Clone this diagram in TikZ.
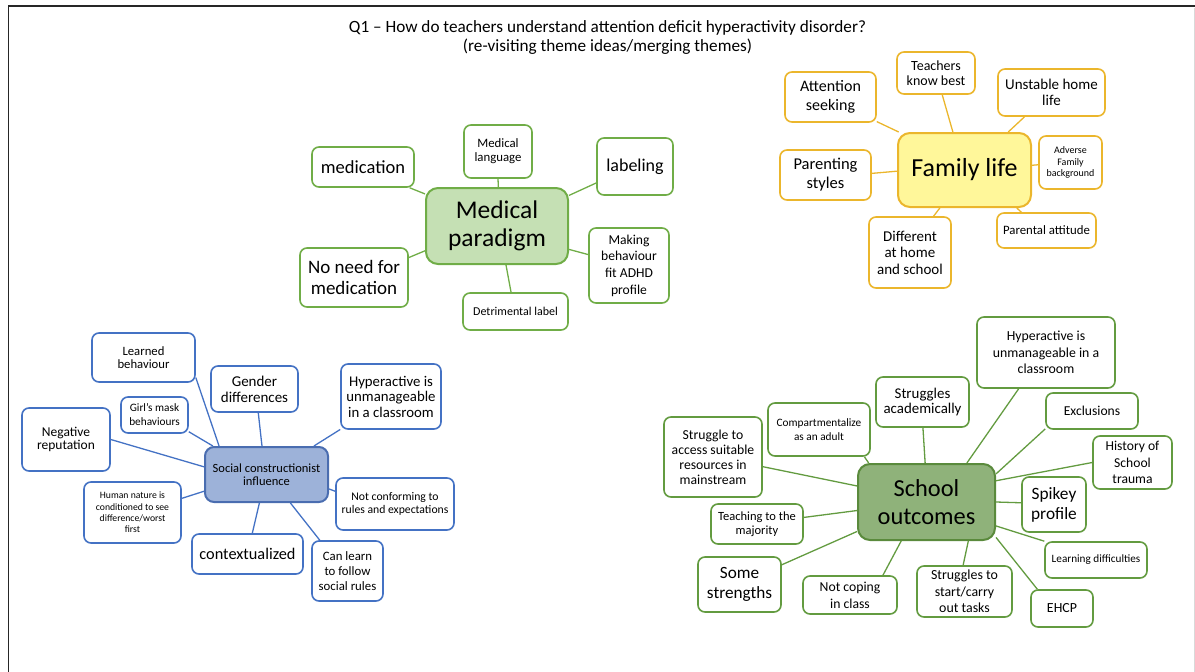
\documentclass[tikz,border=0pt]{standalone}
\usepackage{fontspec}
\setmainfont{Carlito}
\definecolor{medgreen}{HTML}{70AD47}
\definecolor{medfill}{HTML}{C5E0B4}
\definecolor{schgreen}{HTML}{639B40}
\definecolor{schfill}{HTML}{8FB27A}
\definecolor{schedge}{HTML}{5A8A3C}
\definecolor{famgold}{HTML}{EBB62C}
\definecolor{famfill}{HTML}{FFF79A}
\definecolor{socblue}{HTML}{4472C4}
\definecolor{socfill}{HTML}{9DB2D9}
\definecolor{socedge}{HTML}{4A6DB0}
\begin{document}
\begin{tikzpicture}[x=1pt,y=-1pt,
  fsz/.style 2 args={font=\fontsize{#1}{#2}\selectfont},
  box/.style={draw, rounded corners=7pt, line width=1.6pt, fill=white,
              align=center, inner sep=1pt, text=black},
  hub/.style={draw, rounded corners=12pt, line width=2pt,
              align=center, inner sep=1pt, text=black},
  gleaf/.style={box, draw=medgreen},
  sleaf/.style={box, draw=schgreen},
  fleaf/.style={box, draw=famgold},
  bleaf/.style={box, draw=socblue},
  glink/.style={draw=medgreen, line width=1.3pt},
  slink/.style={draw=schgreen, line width=1.3pt},
  flink/.style={draw=famgold, line width=1.3pt},
  blink/.style={draw=socblue, line width=1.3pt},
  wh/.style 2 args={minimum width=#1pt, minimum height=#2pt}
]
\useasboundingbox (0,0) rectangle (1195,672);

% page frame
\draw[line width=1.6pt, black!85] (8.5,672) -- (8.5,6) -- (1195,6);
\draw[line width=0.7pt, black!15] (1194.3,8) -- (1194.3,672);

% title
\node[fsz={17.2}{19.5}, align=center] (title) at (607.5,37.5)
  {Q1 -- How do teachers understand attention deficit hyperactivity disorder?\\
   (re-visiting theme ideas/merging themes)};

% ---------------- Medical paradigm ----------------
\node[hub, draw=medgreen, fill=medfill, fsz={25.5}{28.5}, wh={142}{76}] (mp) at (497,226) {Medical\\paradigm};
\node[gleaf, fsz={18.5}{21}, wh={102}{40}] (med1) at (363,167) {medication};
\node[gleaf, fsz={12.8}{14.3}, wh={68}{53}] (mlang) at (498,151.5) {Medical\\language};
\node[gleaf, fsz={18}{21}, wh={76}{57}] (lab) at (635,166.5) {labeling};
\node[gleaf, fsz={19}{20.7}, wh={108}{59}] (noneed) at (354,277.5) {No need for\\medication};
\node[gleaf, fsz={12}{14}, wh={105}{37}] (detr) at (515.5,311.5) {Detrimental label};
\node[gleaf, fsz={13.6}{16.7}, wh={80}{75}] (mak) at (629,265.5) {Making\\behaviour\\fit ADHD\\profile};

\draw[glink] (mp.156) -- (med1.-24);
\draw[glink] (mp.88.5) -- (mlang.-90);
\draw[glink] (mp.23.6) -- (lab.203.5);
\draw[glink] (mp.-18.7) -- (mak.165.3);
\draw[glink] (mp.-77) -- (detr.103.7);
\draw[glink] (mp.199.4) -- (noneed.20.8);

% ---------------- Family life ----------------
\node[hub, draw=famgold, fill=famfill, fsz={26}{30}, wh={133}{74}] (fl) at (964.5,170) {Family life};
\node[fleaf, fsz={16}{18.5}, wh={91}{50}] (att) at (830.5,97) {Attention\\seeking};
\node[fleaf, fsz={14}{14.5}, wh={78}{42}] (tkb) at (936,73) {Teachers\\know best};
\node[fleaf, fsz={15}{15.7}, wh={107}{47}] (unst) at (1051.5,92.5) {Unstable home\\life};
\node[fleaf, fsz={10}{11.2}, wh={63}{53}] (adv) at (1070.5,162.5) {Adverse\\Family\\background};
\node[fleaf, fsz={16.5}{19}, wh={91}{50}] (pstyle) at (825.5,175) {Parenting\\styles};
\node[fleaf, fsz={15}{16.5}, wh={82}{71}] (diff) at (910,252.5) {Different\\at home\\and school};
\node[fleaf, fsz={12.8}{14}, wh={99}{35}] (patt) at (1046.5,230.5) {Parental attitude};

\draw[flink] (fl.150.9) -- (att.-28.8);
\draw[flink] (fl.107.3) -- (tkb.-74);
\draw[flink] (fl.41.7) -- (unst.-138.3);
\draw[flink] (fl.4.3) -- (adv.184.5);
\draw[flink] (fl.-36.2) -- (patt.144.5);
\draw[flink] (fl.-123.5) -- (diff.57);
\draw[flink] (fl.181.7) -- (pstyle.2.5);

% ---------------- Social constructionist influence ----------------
\node[hub, draw=socedge, fill=socfill, rounded corners=9pt, fsz={12.5}{12.7}, wh={123}{55}] (sc) at (266.5,474.5) {Social constructionist\\influence};
\node[bleaf, fsz={12.7}{13.3}, wh={103}{49}] (lb) at (143.5,357.5) {Learned\\behaviour};
\node[bleaf, fsz={15}{15.7}, wh={87}{46}] (gd) at (254.5,389) {Gender\\differences};
\node[bleaf, fsz={14.8}{15.5}, wh={100}{65}] (hyp1) at (391,396.5) {Hyperactive is\\unmanageable\\in a classroom};
\node[bleaf, fsz={11.3}{14}, wh={67}{36}] (gm) at (154.5,415) {Girl’s mask\\behaviours};
\node[bleaf, fsz={13.5}{13.6}, wh={88}{63}] (neg) at (66,439.5) {Negative\\reputation};
\node[bleaf, fsz={9.7}{11.3}, wh={97}{61}] (hn) at (132.5,512.5) {Human nature is\\conditioned to see\\difference/worst\\first};
\node[bleaf, fsz={11.7}{12.7}, wh={118}{52}] (nc) at (395,504) {Not conforming to\\rules and expectations};
\node[bleaf, fsz={16.3}{18}, wh={111}{40}] (ctx) at (247.5,554) {contextualized};
\node[bleaf, fsz={12.8}{15}, wh={71}{60}] (cl) at (347.5,571) {Can learn\\to follow\\social rules};

\draw[blink] (sc.149.9) -- (lb.-21.7);
\draw[blink] (sc.99.3) -- (gd.-81.3);
\draw[blink] (sc.31.7) -- (hyp1.-147.8);
\draw[blink] (sc.152.8) -- (gm.-26.9);
\draw[blink] (sc.173) -- (neg.-0.7);
\draw[blink] (sc.195.9) -- (hn.16.6);
\draw[blink] (sc.-13.3) -- (nc.168.5);
\draw[blink] (sc.-104.7) -- (ctx.77.3);
\draw[blink] (sc.-50.5) -- (cl.132.3);

% ---------------- School outcomes ----------------
\node[hub, draw=schedge, fill=schfill, fsz={24.4}{28}, wh={137}{76}] (so) at (926.5,502) {School\\outcomes};
\node[sleaf, fsz={13.8}{16.7}, wh={138}{71}] (hyp2) at (1046,352.5) {Hyperactive is\\unmanageable in a\\classroom};
\node[sleaf, fsz={14.9}{15.7}, wh={93}{50}] (sa) at (922.5,402) {Struggles\\academically};
\node[sleaf, fsz={11.3}{13.3}, wh={102}{53}] (comp) at (819,429.5) {Compartmentalize\\as an adult};
\node[sleaf, fsz={13.6}{15}, wh={92}{36}] (excl) at (1092,411) {Exclusions};
\node[sleaf, fsz={13.7}{15.1}, wh={98}{80}] (acc) at (713,457) {Struggle to\\access suitable\\resources in\\mainstream};
\node[sleaf, fsz={13.6}{16.7}, wh={79}{53}] (hist) at (1132.5,462.5) {History of\\School\\trauma};
\node[sleaf, fsz={17.3}{20}, wh={64}{55}] (spk) at (1054,504.5) {Spikey\\profile};
\node[sleaf, fsz={12.5}{13.7}, wh={92}{40}] (teach) at (757,524) {Teaching to the\\majority};
\node[sleaf, fsz={11.2}{13}, wh={102}{36}] (ld) at (1096,560) {Learning difficulties};
\node[sleaf, fsz={17.2}{20}, wh={83}{55}] (ss) at (739.5,584.5) {Some\\strengths};
\node[sleaf, fsz={13.7}{17.3}, wh={94}{38}] (ncp) at (850,595) {Not coping\\in class};
\node[sleaf, fsz={13.9}{16.7}, wh={95}{51}] (sst) at (964.5,591.5) {Struggles to\\start/carry\\out tasks};
\node[sleaf, fsz={13.9}{16}, wh={62}{37}] (ehcp) at (1062,608.5) {EHCP};

\draw[slink] (so.44.6) -- (hyp2.-127.3);
\draw[slink] (so.92.3) -- (sa.-89);
\draw[slink] (so.146.5) -- (comp.-31.6);
\draw[slink] (so.22.4) -- (excl.201.4);
\draw[slink] (so.167.6) -- (acc.-11.5);
\draw[slink] (so.17.8) -- (hist.180.7);
\draw[slink] (so.-0.8) -- (spk.177.3);
\draw[slink] (so.187.5) -- (teach.8.7);
\draw[slink] (so.-19.3) -- (ld.160.6);
\draw[slink] (so.203.7) -- (ss.25.2);
\draw[slink] (so.-123.9) -- (ncp.31.5);
\draw[slink] (so.-43.8) -- (sst.93.4);
\draw[slink] (so.-27.8) -- (ehcp.142.4);
\end{tikzpicture}
\end{document}
